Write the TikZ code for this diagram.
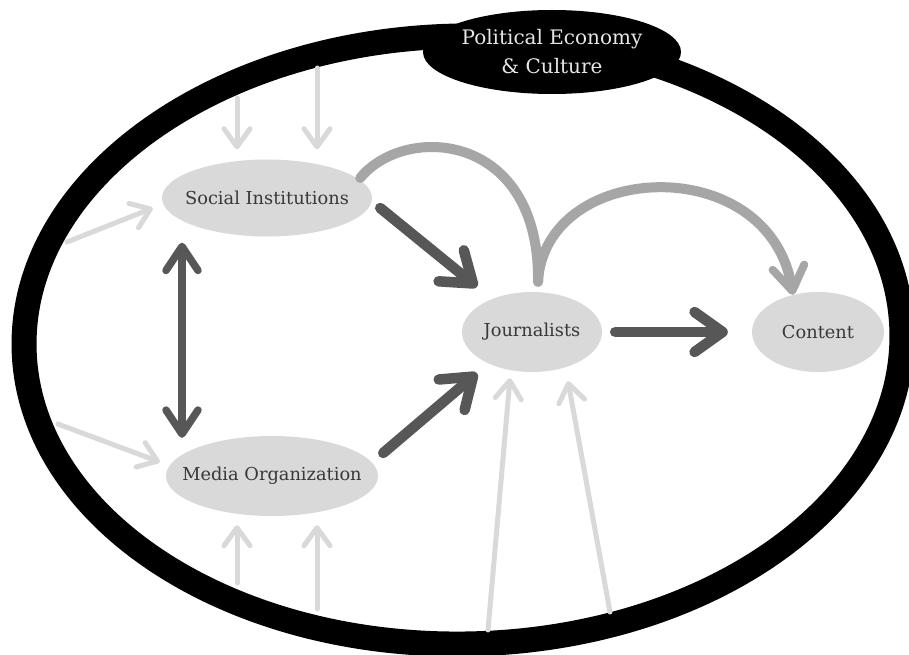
\documentclass[tikz,border=0pt]{standalone}
\usepackage{fontspec}
\setmainfont{DejaVu Serif}
\usetikzlibrary{arrows.meta,shapes.geometric}
\definecolor{nodegray}{HTML}{D9D9D9}
\definecolor{darkarrow}{HTML}{575757}
\definecolor{midarrow}{HTML}{A6A6A6}
\definecolor{lightarrow}{HTML}{D9D9D9}
\definecolor{txt}{HTML}{383838}
\definecolor{labeltxt}{HTML}{E6E6E6}
\begin{document}
\begin{tikzpicture}[x=1pt,y=-1pt,
  blob/.style={ellipse, fill=nodegray, inner sep=0pt},
  blobtext/.style={text=txt, inner sep=0pt, font=\fontsize{17.8}{20}\selectfont},
  pectext/.style={text=labeltxt, inner sep=0pt, align=center, font=\fontsize{20}{29}\selectfont},
  darkarr/.style={draw=darkarrow, line width=10.5pt, line cap=round,
    -{Straight Barb[length=28pt, width=40pt, round]}},
  dblarr/.style={draw=darkarrow, line width=7.5pt, line cap=round,
    {Straight Barb[length=24pt, width=32pt, round]}-{Straight Barb[length=24pt, width=32pt, round]}},
  midline/.style={draw=midarrow, line width=10pt, line cap=round},
  midarr/.style={midline, -{Straight Barb[length=24pt, width=32pt, round, line width=8pt]}},
  lightarr/.style={draw=lightarrow, line width=5pt, line cap=round,
    -{Straight Barb[length=18pt, width=26pt, round]}}
]
\useasboundingbox (0,0) rectangle (909,655);
\fill[white] (0,0) rectangle (909,655);

% outer ring
\draw[line width=25pt, rotate around={1:(463,340)}] (463,340) ellipse [x radius=439, y radius=304];

% label
\node[ellipse, fill=black, minimum width=258pt, minimum height=84pt, inner sep=0pt,
  label={[pectext]center:{Political Economy\\\& Culture}}] (pec) at (552,52) {};

% nodes
\node[blob, minimum width=210pt, minimum height=77pt,
  label={[blobtext]center:Social Institutions}] (si) at (267,198) {};
\node[blob, minimum width=212pt, minimum height=80pt,
  label={[blobtext]center:Media Organization}] (mo) at (272,476) {};
\node[blob, minimum width=140pt, minimum height=80pt,
  label={[blobtext]center:Journalists}] (jo) at (532,332) {};
\node[blob, minimum width=132pt, minimum height=80pt,
  label={[blobtext]center:Content}] (co) at (818,332) {};

% free ends of outside influences
\coordinate (f1) at (237,98);
\coordinate (f2) at (317,68);
\coordinate (f3) at (67,242);
\coordinate (f4) at (58,424);
\coordinate (f5) at (237,583);
\coordinate (f6) at (317,609);
\coordinate (f7) at (488,630);
\coordinate (f8) at (610,612);

\draw[lightarr] (f1) -- ([shift={(-30,-10)}]si.north);
\draw[lightarr] (f2) -- ([shift={(50,-10)}]si.north);
\draw[lightarr] (f3) -- ([shift={(-9,10)}]si.west);
\draw[lightarr] (f4) -- ([shift={(-6,-14)}]mo.west);
\draw[lightarr] (f5) -- ([shift={(-35,9)}]mo.south);
\draw[lightarr] (f6) -- ([shift={(45,9)}]mo.south);
\draw[lightarr] (f7) -- ([shift={(-22,6)}]jo.south);
\draw[lightarr] (f8) -- ([shift={(36,9)}]jo.south);

% curved influences
\draw[midline] ([shift={(-12,-20)}]si.east) .. controls +(45,-55) and +(2,-150) .. ([shift={(6,-10)}]jo.north);
\draw[midarr] ([shift={(6,-10)}]jo.north) .. controls +(7,-122) and +(-24,-145) .. ([shift={(-25,3)}]co.north);

% main influences
\draw[darkarr] ([shift={(8,10)}]si.east) -- ([shift={(-55,-5)}]jo.north);
\draw[darkarr] ([shift={(5,-23)}]mo.east) -- ([shift={(-55,1)}]jo.south);
\draw[darkarr] ([shift={(13,0)}]jo.east) -- ([shift={(-24,0)}]co.west);
\draw[dblarr] ([shift={(-85,6)}]si.south) -- ([shift={(-90,2)}]mo.north);
\end{tikzpicture}
\end{document}
